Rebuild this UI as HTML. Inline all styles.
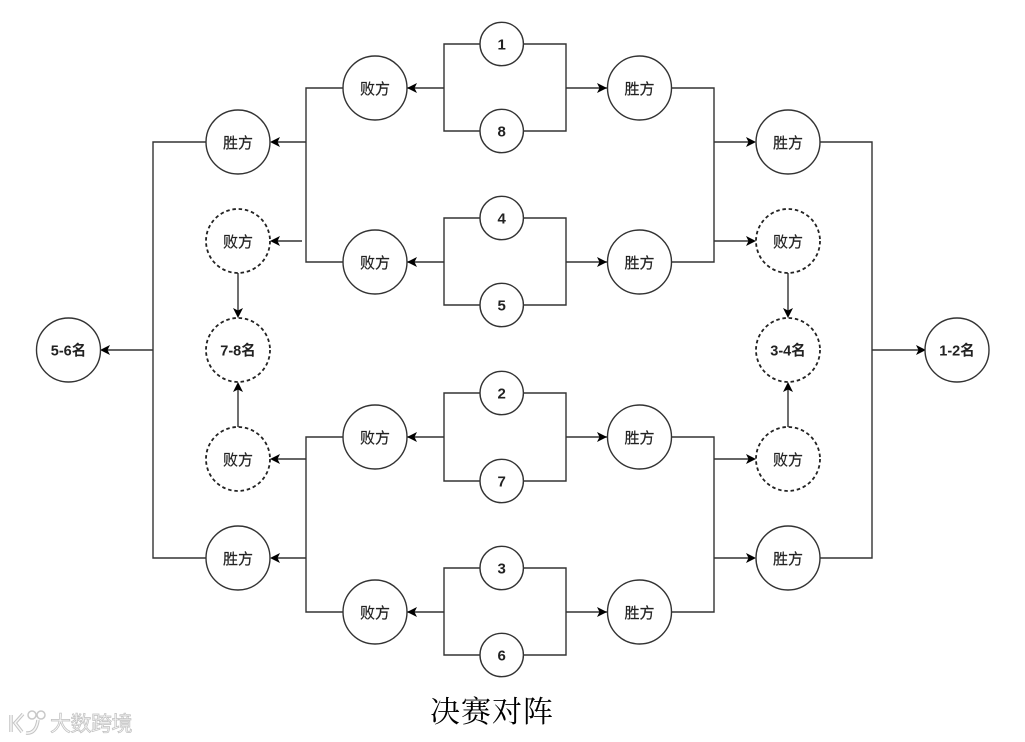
<!DOCTYPE html>
<html>
<head>
<meta charset="utf-8">
<style>
html,body{margin:0;padding:0;background:#fff;width:1025px;height:742px;overflow:hidden}
svg{display:block}
text{font-family:"Liberation Sans","Noto Sans CJK SC",sans-serif;text-anchor:middle;fill:#222}
.l{fill:none;stroke:#333;stroke-width:1.4}
.c{fill:#fff;stroke:#333;stroke-width:1.4}
.d{fill:#fff;stroke:#222;stroke-width:1.8;stroke-dasharray:3.5 2.8}
.a{fill:#000;stroke:none}
.t{font-size:15px;stroke:#222;stroke-width:.2}
.b{font-size:14.500px;font-weight:bold}
.s{font-size:15px;font-weight:bold}
</style>
</head>
<body>
<svg width="1025" height="742" viewBox="0 0 1025 742" xmlns="http://www.w3.org/2000/svg">
<!-- brackets -->
<path class="l" d="M444 44H566V131H444ZM444 88H407M566 88H607"/>
<path class="l" d="M444 218H566V305H444ZM444 262H407M566 262H607"/>
<path class="l" d="M444 393H566V481H444ZM444 437H407M566 437H607"/>
<path class="l" d="M444 568H566V655H444ZM444 612H407M566 612H607"/>
<!-- left -->
<path class="l" d="M343 88H306V262H343M306 142H272M302 241H272"/>
<path class="l" d="M343 437H306V612H343M306 459H272M306 558H272"/>
<path class="l" d="M206 142H153V558H206M153 350H103"/>
<path class="l" d="M238 273V316M238 427V384"/>
<!-- right -->
<path class="l" d="M671 88H714V262H671M714 142H754M714 241H754"/>
<path class="l" d="M671 437H714V612H671M714 459H754M714 558H754"/>
<path class="l" d="M820 142H872V558H820M872 350H924"/>
<path class="l" d="M788 273V316M788 427V384"/>
<!-- arrowheads -->
<path class="a" d="M407 88l10-5-2.500 5 2.500 5zM407 262l10-5-2.500 5 2.500 5zM407 437l10-5-2.500 5 2.500 5zM407 612l10-5-2.500 5 2.500 5z"/>
<path class="a" d="M607 88l-10-5 2.500 5-2.500 5zM607 262l-10-5 2.500 5-2.500 5zM607 437l-10-5 2.500 5-2.500 5zM607 612l-10-5 2.500 5-2.500 5z"/>
<path class="a" d="M270 142l10-5-2.500 5 2.500 5zM270 241l10-5-2.500 5 2.500 5zM270 459l10-5-2.500 5 2.500 5zM270 558l10-5-2.500 5 2.500 5zM100 350l10-5-2.500 5 2.500 5z"/>
<path class="a" d="M756 142l-10-5 2.500 5-2.500 5zM756 241l-10-5 2.500 5-2.500 5zM756 459l-10-5 2.500 5-2.500 5zM756 558l-10-5 2.500 5-2.500 5zM926 350l-10-5 2.500 5-2.500 5z"/>
<path class="a" d="M238 318l-5-10 5 2.500 5-2.500zM788 318l-5-10 5 2.500 5-2.500zM238 382l-5 10 5-2.500 5 2.500zM788 382l-5 10 5-2.500 5 2.500z"/>
<!-- seeds -->
<circle class="c" cx="501.700" cy="44" r="21.700"/><text class="s" x="501.700" y="49.500">1</text>
<circle class="c" cx="501.700" cy="131" r="21.700"/><text class="s" x="501.700" y="136.500">8</text>
<circle class="c" cx="501.700" cy="218" r="21.700"/><text class="s" x="501.700" y="223.500">4</text>
<circle class="c" cx="501.700" cy="305" r="21.700"/><text class="s" x="501.700" y="310.500">5</text>
<circle class="c" cx="501.700" cy="393" r="21.700"/><text class="s" x="501.700" y="398.500">2</text>
<circle class="c" cx="501.700" cy="481" r="21.700"/><text class="s" x="501.700" y="486.500">7</text>
<circle class="c" cx="501.700" cy="568" r="21.700"/><text class="s" x="501.700" y="573.500">3</text>
<circle class="c" cx="501.700" cy="655" r="21.700"/><text class="s" x="501.700" y="660.500">6</text>
<!-- losers -->
<circle class="c" cx="375" cy="88" r="32"/><text class="t" x="375" y="94">败方</text>
<circle class="c" cx="375" cy="262" r="32"/><text class="t" x="375" y="268">败方</text>
<circle class="c" cx="375" cy="437" r="32"/><text class="t" x="375" y="443">败方</text>
<circle class="c" cx="375" cy="612" r="32"/><text class="t" x="375" y="618">败方</text>
<!-- winners -->
<circle class="c" cx="639.500" cy="88" r="32"/><text class="t" x="639.500" y="94">胜方</text>
<circle class="c" cx="639.500" cy="262" r="32"/><text class="t" x="639.500" y="268">胜方</text>
<circle class="c" cx="639.500" cy="437" r="32"/><text class="t" x="639.500" y="443">胜方</text>
<circle class="c" cx="639.500" cy="612" r="32"/><text class="t" x="639.500" y="618">胜方</text>
<!-- left column -->
<circle class="c" cx="238" cy="142" r="32"/><text class="t" x="238" y="148">胜方</text>
<circle class="d" cx="238" cy="241" r="32"/><text class="t" x="238" y="247">败方</text>
<circle class="d" cx="238" cy="350" r="32"/><text class="b" x="238" y="355.500">7-8名</text>
<circle class="d" cx="238" cy="459" r="32"/><text class="t" x="238" y="465">败方</text>
<circle class="c" cx="238" cy="558" r="32"/><text class="t" x="238" y="564">胜方</text>
<!-- right column -->
<circle class="c" cx="788" cy="142" r="32"/><text class="t" x="788" y="148">胜方</text>
<circle class="d" cx="788" cy="241" r="32"/><text class="t" x="788" y="247">败方</text>
<circle class="d" cx="788" cy="350" r="32"/><text class="b" x="788" y="355.500">3-4名</text>
<circle class="d" cx="788" cy="459" r="32"/><text class="t" x="788" y="465">败方</text>
<circle class="c" cx="788" cy="558" r="32"/><text class="t" x="788" y="564">胜方</text>
<!-- ends -->
<circle class="c" cx="68.500" cy="350" r="32"/><text class="b" x="68.500" y="355.500">5-6名</text>
<circle class="c" cx="957" cy="350" r="32"/><text class="b" x="957" y="355.500">1-2名</text>
<!-- title -->
<text x="492" y="722" style="font-family:'Liberation Serif','Noto Serif CJK SC',serif;font-size:30px;fill:#000;letter-spacing:1px">决赛对阵</text>
<!-- watermark -->
<g>
<path d="M11 715v17M23 714l-8 9 7 9M26 733q10 1 12-13" fill="none" stroke="#c4c4c4" stroke-width="3.500"/>
<path d="M11 715v17M23 714l-8 9 7 9M26 733q10 1 12-13" fill="none" stroke="#f6f6f6" stroke-width="1.500"/>
<circle cx="32" cy="715" r="4" fill="none" stroke="#c8c8c8" stroke-width="1.500"/>
<circle cx="41" cy="715" r="4" fill="none" stroke="#c8c8c8" stroke-width="1.500"/>
<text x="91" y="731" style="font-size:21px;fill:#f6f6f6;stroke:#c0c0c0;stroke-width:.7;letter-spacing:-.5px">大数跨境</text>
</g>
</svg>
</body>
</html>
